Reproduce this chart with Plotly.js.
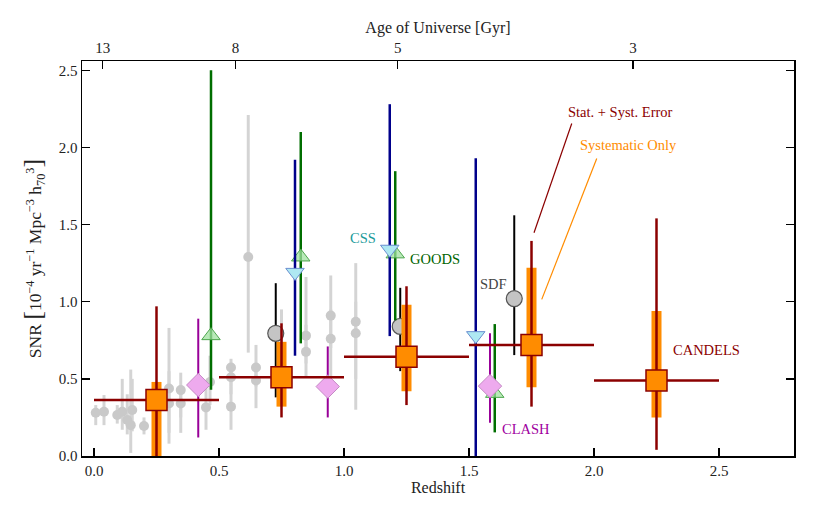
<!DOCTYPE html>
<html>
<head>
<meta charset="utf-8">
<script src="https://cdn.plot.ly/plotly-3.0.1.min.js"></script>
<style>
  html, body { margin: 0; padding: 0; background: #fff; }
  #plot { width: 818px; height: 518px; }
</style>
</head>
<body>
<div id="plot"></div>
<script>
// literature compilation (grey)
var greyZ   = [0.007, 0.04, 0.093, 0.113, 0.133, 0.147, 0.153, 0.20, 0.30, 0.30, 0.347, 0.347, 0.448, 0.464, 0.548, 0.548, 0.548, 0.617, 0.648, 0.648, 0.75, 0.848, 0.848, 0.947, 0.947, 1.047, 1.047];
var greySNR = [0.28, 0.287, 0.266, 0.287, 0.233, 0.20, 0.298, 0.194, 0.438, 0.34, 0.427, 0.34, 0.315, 0.48, 0.574, 0.51, 0.32, 1.29, 0.574, 0.49, 0.55, 0.78, 0.675, 0.91, 0.76, 0.87, 0.795];
var greyHi  = [0.33, 0.395, 0.33, 0.50, 0.40, 0.56, 0.50, 0.25, 0.83, 0.55, 0.54, 0.45, 0.45, 0.65, 0.63, 0.60, 0.45, 2.21, 0.72, 0.60, 0.95, 1.16, 0.85, 1.17, 0.95, 1.25, 1.00];
var greyLo  = [0.20, 0.20, 0.21, 0.17, 0.14, 0.02, 0.16, 0.14, 0.08, 0.15, 0.15, 0.25, 0.17, 0.33, 0.45, 0.40, 0.17, 0.67, 0.45, 0.31, 0.35, 0.60, 0.51, 0.70, 0.51, 0.50, 0.30];

// SDF
var sdfZ   = [0.727, 1.225, 1.681];
var sdfSNR = [0.795, 0.84, 1.02];
var sdfHi  = [1.12, 1.09, 1.56];
var sdfLo  = [0.38, 0.55, 0.654];

// GOODS
var goodsZ   = [0.468, 0.827, 1.205, 1.603];
var goodsSNR = [0.78, 1.29, 1.31, 0.406];
var goodsHi  = [2.50, 2.10, 1.846, 0.855];
var goodsLo  = [0.43, 0.73, 0.88, 0.153];

// CSS
var cssZ   = [0.804, 1.183, 1.527];
var cssSNR = [1.19, 1.34, 0.78];
var cssHi  = [1.92, 2.28, 1.93];
var cssLo  = [0.65, 0.777, 0.0];

// CLASH
var clashZ   = [0.417, 0.935, 1.584];
var clashSNR = [0.46, 0.45, 0.453];
var clashHi  = [0.89, 0.71, 0.795];
var clashLo  = [0.12, 0.25, 0.216];

// CANDELS bins
var binLo      = [0.0, 0.5, 1.0, 1.5, 2.0];
var binHi      = [0.5, 1.0, 1.5, 2.0, 2.5];
var candelsSNR = [0.363, 0.51, 0.643, 0.72, 0.49];
var totHi      = [0.97, 0.86, 1.10, 1.394, 1.54];
var totLo      = [0.0, 0.25, 0.33, 0.32, 0.04];
var sysHi      = [0.48, 0.74, 0.98, 1.22, 0.94];
var sysLo      = [0.0, 0.32, 0.42, 0.445, 0.25];

// top axis: age of universe
var ageTickZ      = [0.035, 0.566, 1.215, 2.156];
var ageTickLabels = ["13", "8", "5", "3"];

var FONT = "'Liberation Serif', 'Times New Roman', serif";

function plus(hi, y) { return hi.map(function (h, i) { return h - y[i]; }); }
function minus(lo, y) { return lo.map(function (l, i) { return y[i] - l; }); }

function errTrace(x, y, hi, lo, col, thick, marker) {
        return {
                x: x, y: y, type: 'scatter', mode: 'markers', showlegend: false,
                hoverinfo: 'skip', cliponaxis: true,
                error_y: { type: 'data', symmetric: false, array: plus(hi, y), arrayminus: minus(lo, y),
                           color: col, thickness: thick, width: 0 },
                marker: marker
        };
}

var binMid = binLo.map(function (l, i) { return (l + binHi[i]) / 2; });
var binHalf = binLo.map(function (l, i) { return (binHi[i] - l) / 2; });

var data = [
        errTrace(greyZ, greySNR, greyHi, greyLo, '#d4d4d4', 3,
                 { color: '#c9c9c9', size: 10 }),
        errTrace(sdfZ, sdfSNR, sdfHi, sdfLo, '#000000', 2,
                 { color: '#c4c4c4', size: 16, line: { color: '#555555', width: 1.2 } }),
        errTrace(goodsZ, goodsSNR, goodsHi, goodsLo, '#006e00', 2.5,
                 { symbol: 'triangle-up', color: 'rgba(160,225,160,0.75)', size: 16, line: { color: '#4da64d', width: 1 } }),
        errTrace(cssZ, cssSNR, cssHi, cssLo, '#00008b', 2.5,
                 { symbol: 'triangle-down', color: '#aee8f2', size: 16, line: { color: '#6a8fd0', width: 1 } }),
        errTrace(clashZ, clashSNR, clashHi, clashLo, '#980098', 2,
                 { symbol: 'diamond', color: '#eeaaee', size: 18, line: { color: '#c58ac5', width: 1 } }),
        errTrace(binMid, candelsSNR, sysHi, sysLo, '#ff8c00', 10,
                 { color: 'rgba(0,0,0,0)', size: 1 }),
        (function () {
                var t = errTrace(binMid, candelsSNR, totHi, totLo, '#8b0000', 2.5,
                                 { symbol: 'square', color: '#ff8c00', size: 21, line: { color: '#8b0000', width: 1.5 } });
                t.error_x = { type: 'data', array: binHalf, color: '#8b0000', thickness: 2.5, width: 0 };
                return t;
        })(),
        { x: [0, 2.5], y: [0, 0], xaxis: 'x2', type: 'scatter', mode: 'markers',
          marker: { opacity: 0 }, showlegend: false, hoverinfo: 'skip' }
];

function note(x, y, text, col, anchor) {
        return { x: x, y: y, text: text, showarrow: false, xanchor: anchor || 'center',
                 yanchor: 'middle', font: { family: FONT, size: 14.5, color: col } };
}

var tickFont = { family: FONT, size: 15, color: '#222' };
var titleFont = { family: FONT, size: 16, color: '#222' };

var layout = {
        width: 818, height: 518,
        margin: { l: 82, r: 24, t: 61, b: 62 },
        paper_bgcolor: '#ffffff', plot_bgcolor: '#ffffff',
        font: { family: FONT, size: 14, color: '#222' },
        showlegend: false,
        xaxis: {
                range: [-0.048, 2.8], tickvals: [0, 0.5, 1, 1.5, 2, 2.5], tickformat: '.1f',
                ticks: 'inside', ticklen: 8, tickwidth: 1.3, tickcolor: '#000',
                showline: true, linecolor: '#000', linewidth: 1.5, mirror: true,
                showgrid: false, zeroline: false,
                tickfont: tickFont,
                title: { text: 'Redshift', font: titleFont, standoff: 4 }
        },
        xaxis2: {
                overlaying: 'x', side: 'top', matches: 'x', range: [-0.048, 2.8],
                tickvals: ageTickZ, ticktext: ageTickLabels,
                ticks: 'inside', ticklen: 8, tickwidth: 1.3, tickcolor: '#000',
                ticklabelstandoff: 4,
                showgrid: false, zeroline: false, showline: false,
                tickfont: tickFont,
                title: { text: 'Age of Universe [Gyr]', font: titleFont, standoff: 2 }
        },
        yaxis: {
                range: [0, 2.56], tickvals: [0, 0.5, 1, 1.5, 2, 2.5], tickformat: '.1f',
                ticks: 'inside', ticklen: 8, tickwidth: 1.3, tickcolor: '#000',
                showline: true, linecolor: '#000', linewidth: 1.5, mirror: 'ticks',
                showgrid: false, zeroline: false,
                tickfont: tickFont,
                title: { text: 'SNR <span style="font-size:26px">[</span>10<sup>\u22124</sup> yr<sup>\u22121</sup> Mpc<sup>\u22123</sup> h<sub>70</sub><sup>3</sup><span style="font-size:26px">]</span>',
                         font: { family: FONT, size: 17.5, color: '#222' }, standoff: 12 }
        },
        shapes: [
                { type: 'line', xref: 'x', yref: 'y', x0: 1.911, y0: 2.155, x1: 1.76, y1: 1.447,
                  line: { color: '#8b0000', width: 1.2 } },
                { type: 'line', xref: 'x', yref: 'y', x0: 2.011, y0: 1.928, x1: 1.791, y1: 1.015,
                  line: { color: '#ff8c00', width: 1.2 } }
        ],
        annotations: [
                note(2.104, 2.23, 'Stat. + Syst. Error', '#8b0000'),
                note(2.137, 2.014, 'Systematic Only', '#ff8c00'),
                note(2.45, 0.687, 'CANDELS', '#8b0000'),
                note(1.728, 0.175, 'CLASH', '#a000a0'),
                note(1.66, 1.118, 'SDF', '#444444', 'right'),
                note(1.077, 1.41, 'CSS', '#1a9a9a'),
                note(1.364, 1.274, 'GOODS', '#006400')
        ]
};

Plotly.newPlot('plot', data, layout, { staticPlot: true, displayModeBar: false });
</script>
</body>
</html>
